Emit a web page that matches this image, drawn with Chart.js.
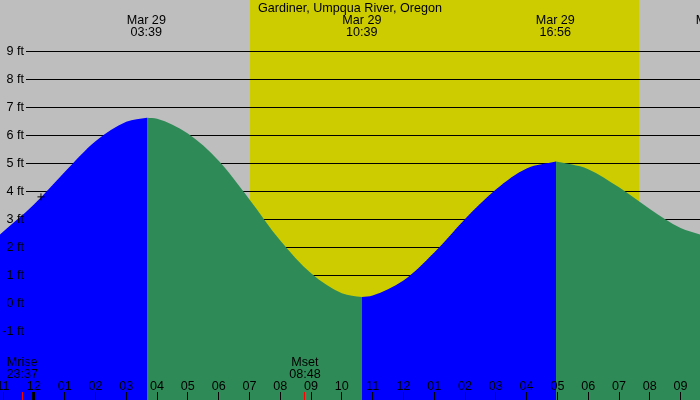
<!DOCTYPE html>
<html>
<head>
<meta charset="utf-8">
<title>Gardiner, Umpqua River, Oregon</title>
<script src="https://cdn.jsdelivr.net/npm/chart.js@4.4.0/dist/chart.umd.min.js"></script>
<style>
  html, body { margin: 0; padding: 0; background: #bebebe; }
  #wrap { width: 700px; height: 400px; }
</style>
</head>
<body>
<div id="wrap"><canvas id="tideChart" width="700" height="400"></canvas></div>
<script>
// ---------------- Data (hours from midnight Mar 29, heights in ft) ----------------
const stationName = "Gardiner, Umpqua River, Oregon";

// rising tide before the 03:39 high
const rise1Hours = [-1.1, 0, 1, 2, 3, 3.6733];
const rise1Feet = [2.45, 3.52, 4.68, 5.78, 6.47, 6.62];

// falling tide 03:39 -> 10:39
const fall1Hours = [3.6733, 4, 5, 6, 7, 8, 9, 10, 10.6548];
const fall1Feet = [6.62, 6.58, 6.05, 5.08, 3.7, 2.23, 1.06, 0.35, 0.21];

// rising tide 10:39 -> 16:56
const rise2Hours = [10.6548, 11, 12, 13, 14, 15, 16, 16.9541];
const rise2Feet = [0.21, 0.27, 0.8, 1.8, 3.0, 4.05, 4.8, 5.05];

// falling tide after the 16:56 high
const fall2Hours = [16.9541, 18, 19, 20, 21, 21.63];
const fall2Feet = [5.05, 4.78, 4.13, 3.36, 2.68, 2.45];

// tide labels along the top
const tideLabelHours = [3.65, 10.65, 16.93, 22.13];
const tideLabelDates = ["Mar 29", "Mar 29", "Mar 29", "Mar 29"];
const tideLabelTimes = ["03:39", "10:39", "16:56", "22:08"];

// daylight band (sunrise, sunset)
const sunHours = [7.02, 19.65];

// moon events
const moonHours = [-0.38, 8.8];
const moonNames = ["Mrise", "Mset"];
const moonTimes = ["23:37", "08:48"];

// marker cross
const markHours = [0.23];
const markFeet = [3.79];

// axes
const feetTicks = [-1, 0, 1, 2, 3, 4, 5, 6, 7, 8, 9];
const hourTicks = [-1, 0, 1, 2, 3, 4, 5, 6, 7, 8, 9, 10, 11, 12, 13, 14, 15, 16, 17, 18, 19, 20, 21];

// ---------------- Colours ----------------
const GRAY = "#bebebe";
const YELLOW = "#cccc00";
const BLUE = "#0000ff";
const GREEN = "#2e8b57";
const FONT = "12.6px 'Liberation Sans', Arial, sans-serif";

function toPoints(xs, ys) {
  return xs.map((x, i) => ({ x: x, y: ys[i] }));
}

function tideSet(xs, ys, color) {
  return {
    data: toPoints(xs, ys),
    borderWidth: 0,
    borderColor: color,
    backgroundColor: color,
    pointRadius: 0,
    pointHoverRadius: 0,
    fill: "start",
    cubicInterpolationMode: "monotone",
    order: 1,
  };
}

function hourText(h) {
  let v = ((h % 12) + 12) % 12;
  if (v === 0) v = 12;
  return String(v).padStart(2, "0");
}

// background: gray night, yellow day, grid lines (under the fill)
const tideBackdrop = {
  id: "tideBackdrop",
  beforeDatasetsDraw(chart) {
    const ctx = chart.ctx;
    const xs = chart.scales.x;
    const ys = chart.scales.y;
    ctx.save();
    ctx.fillStyle = GRAY;
    ctx.fillRect(0, 0, chart.width, chart.height);
    const sx1 = Math.round(xs.getPixelForValue(sunHours[0]));
    const sx2 = Math.round(xs.getPixelForValue(sunHours[1]));
    ctx.fillStyle = YELLOW;
    ctx.fillRect(sx1, 0, sx2 - sx1, chart.height);
    ctx.fillStyle = "#000";
    feetTicks.forEach((f) => {
      const py = Math.round(ys.getPixelForValue(f));
      ctx.fillRect(26, py, chart.width - 26, 1);
    });
    ctx.restore();
  },
};

// labels and ticks on top of the fill
const tideLabels = {
  id: "tideLabels",
  afterDatasetsDraw(chart) {
    const ctx = chart.ctx;
    const xs = chart.scales.x;
    const ys = chart.scales.y;
    ctx.save();
    ctx.font = FONT;
    ctx.fillStyle = "#000";

    // y labels
    ctx.textAlign = "right";
    ctx.textBaseline = "middle";
    feetTicks.forEach((f) => {
      const py = Math.round(ys.getPixelForValue(f));
      ctx.fillText(f + " ft", 24, py + 1);
    });

    // title and tide labels
    ctx.textAlign = "center";
    ctx.textBaseline = "alphabetic";
    ctx.fillText(stationName, 350, 12);
    tideLabelHours.forEach((h, i) => {
      const px = xs.getPixelForValue(h);
      ctx.fillText(tideLabelDates[i], px, 24);
      ctx.fillText(tideLabelTimes[i], px, 36);
    });

    // hour labels and ticks
    hourTicks.forEach((h) => {
      const px = xs.getPixelForValue(h);
      ctx.fillText(hourText(h), px, 390);
      const tx = Math.round(px - 0.5);
      if (h === 0) ctx.fillRect(tx - 1, 392, 3, 8);
      else ctx.fillRect(tx, 392, 1, 8);
    });

    // moon rise / set
    moonHours.forEach((h, i) => {
      const px = xs.getPixelForValue(h);
      ctx.fillStyle = "#000";
      ctx.fillText(moonNames[i], px, 366);
      ctx.fillText(moonTimes[i], px, 378);
      ctx.fillStyle = "#ff0000";
      ctx.fillRect(Math.round(px - 0.5), 392, 1, 8);
    });
    ctx.restore();
  },
};

const ctx = document.getElementById("tideChart").getContext("2d");
const tideChart = new Chart(ctx, {
  type: "line",
  data: {
    datasets: [
      tideSet(rise1Hours, rise1Feet, BLUE),
      tideSet(fall1Hours, fall1Feet, GREEN),
      tideSet(rise2Hours, rise2Feet, BLUE),
      tideSet(fall2Hours, fall2Feet, GREEN),
      {
        data: toPoints(markHours, markFeet),
        showLine: false,
        pointStyle: "cross",
        pointRadius: 3.5,
        pointHoverRadius: 3.5,
        pointBorderColor: "#000",
        pointBorderWidth: 1,
        fill: false,
        clip: false,
        order: 0,
      },
    ],
  },
  options: {
    responsive: false,
    animation: false,
    devicePixelRatio: 1,
    layout: { padding: 0, autoPadding: false },
    plugins: {
      legend: { display: false },
      tooltip: { enabled: false },
    },
    scales: {
      x: { type: "linear", min: -1.1, max: 21.63, display: false },
      y: { min: -3.464, max: 10.821, display: false },
    },
  },
  plugins: [tideBackdrop, tideLabels],
});
</script>
</body>
</html>
